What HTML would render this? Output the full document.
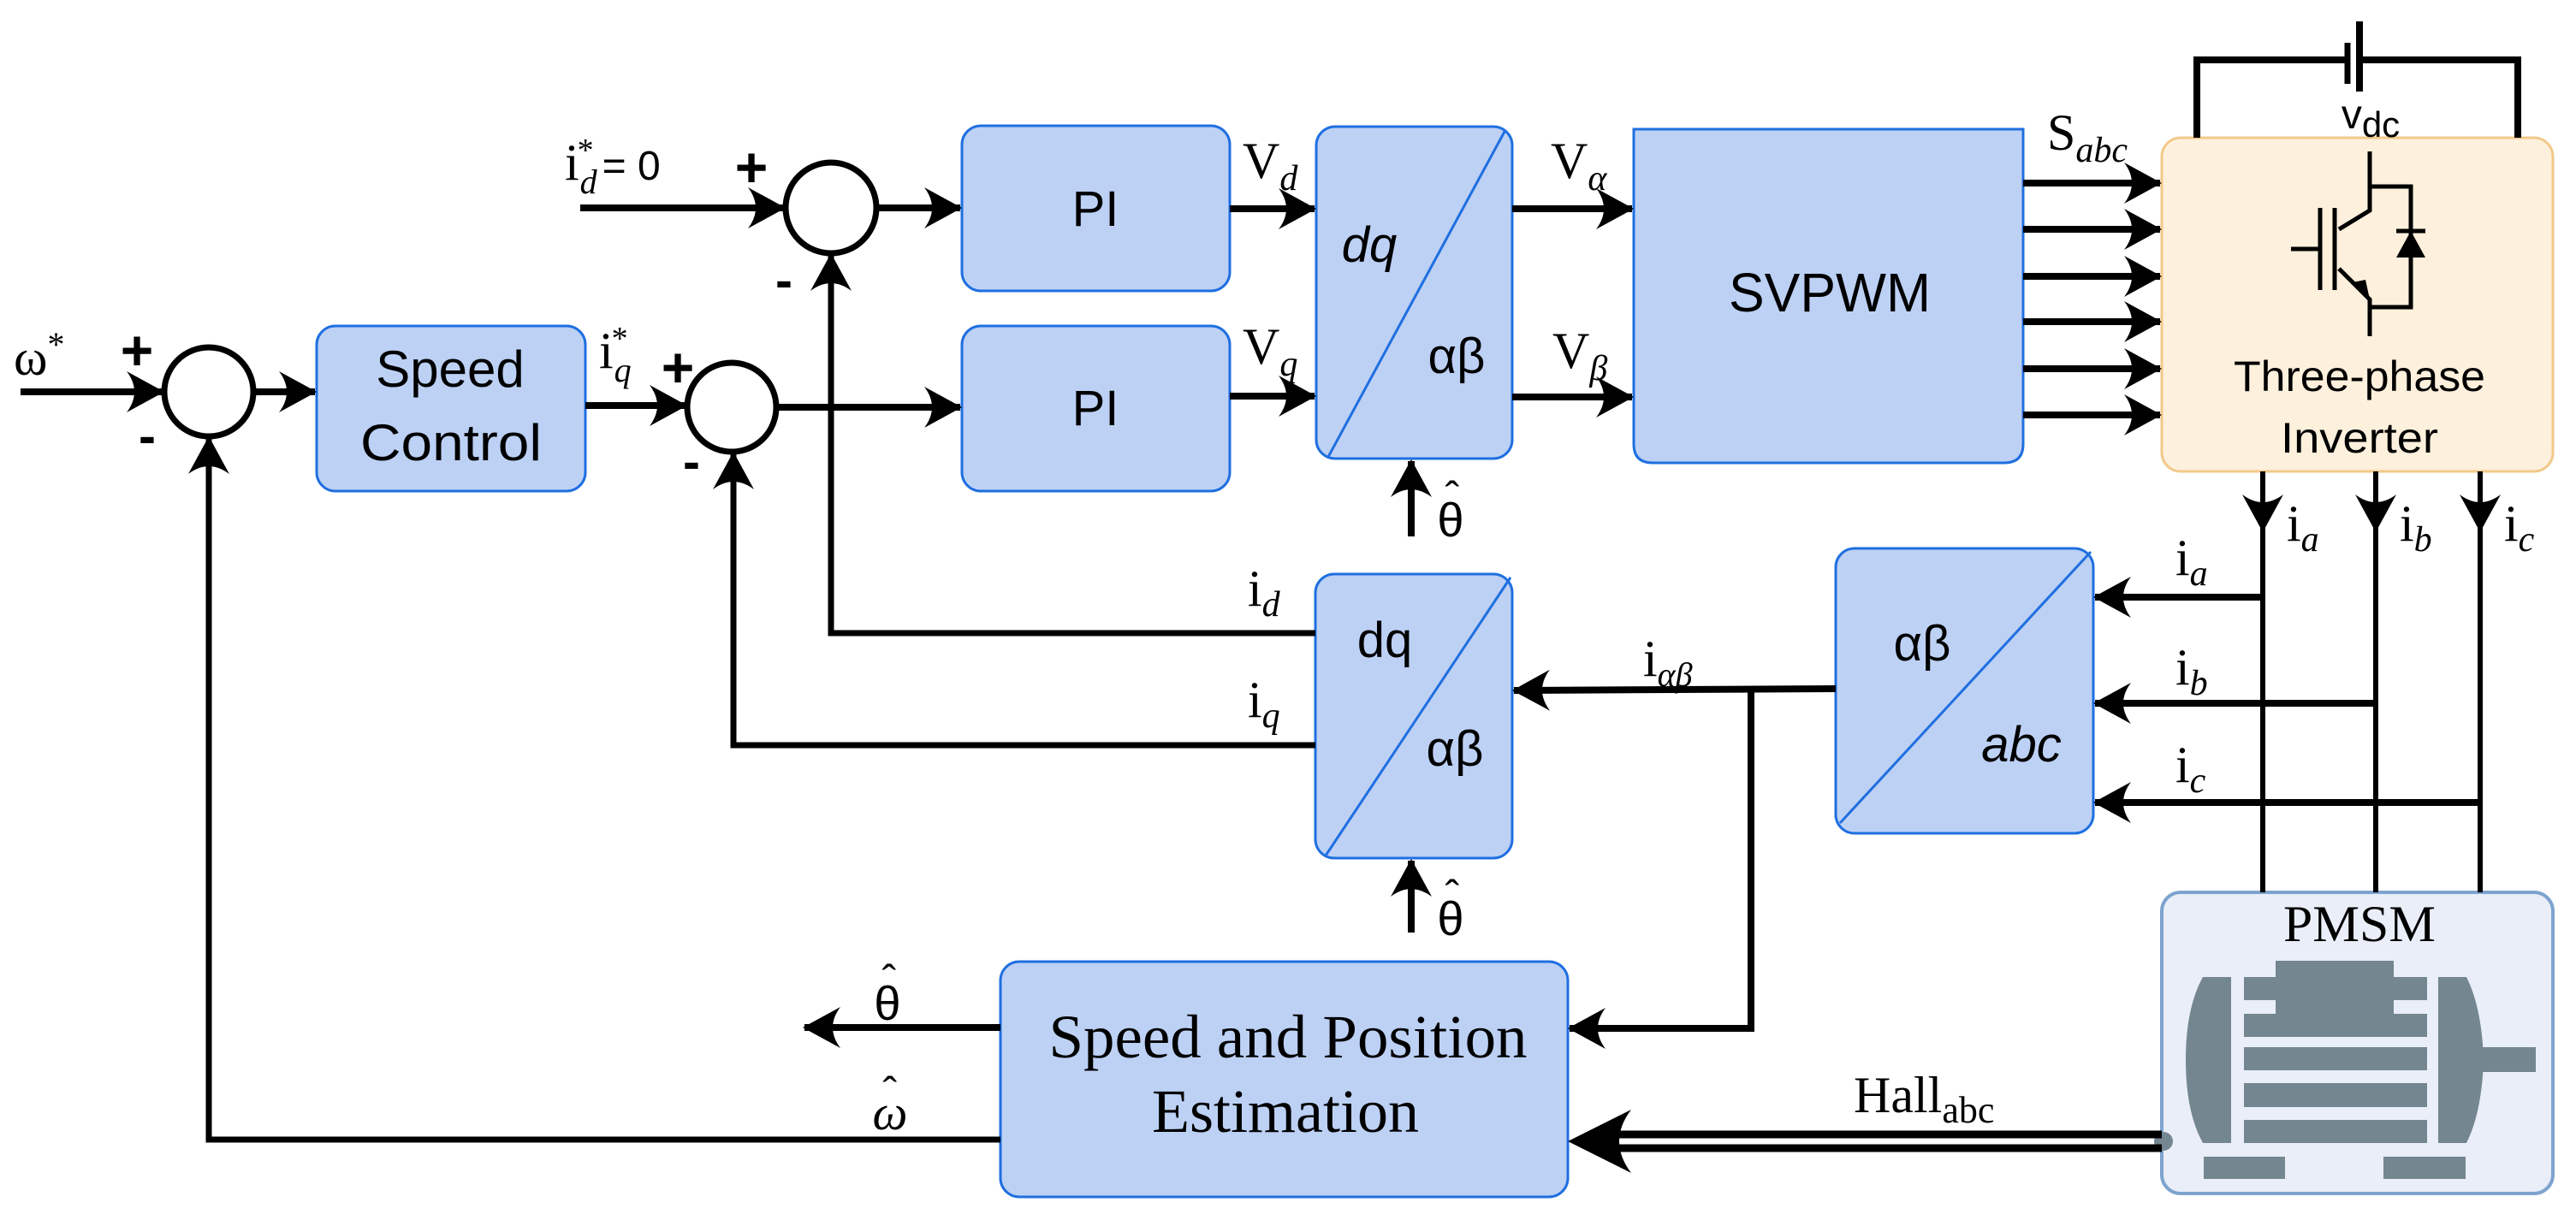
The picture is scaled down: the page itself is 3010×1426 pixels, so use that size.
<!DOCTYPE html>
<html><head><meta charset="utf-8"><style>
html,body{margin:0;padding:0;background:#fff}
svg{display:block}
.s{font-family:"Liberation Sans","DejaVu Sans",sans-serif}
.r{font-family:"Liberation Serif","DejaVu Serif",serif}
</style></head><body>
<svg width="3010" height="1426" viewBox="0 0 3010 1426" xmlns="http://www.w3.org/2000/svg">
<defs>
<marker id="a" markerUnits="userSpaceOnUse" markerWidth="60" markerHeight="60" viewBox="-46 -30 50 60" refX="0" refY="0" orient="auto">
<path d="M2,0 L-42,-24 Q-24,0 -42,24 Z" fill="#000"/></marker>
</defs>
<g fill="#bdd1f5" stroke="#1f6fe0" stroke-width="3">
<rect x="370" y="381" width="314" height="193" rx="22"/>
<rect x="1124" y="147" width="313" height="193" rx="22"/>
<rect x="1124" y="381" width="313" height="193" rx="22"/>
<rect x="1538" y="148" width="229" height="388" rx="22"/>
<path d="M1909,151 L2364,151 L2364,519 Q2364,541 2342,541 L1931,541 Q1909,541 1909,519 Z"/>
<rect x="1537" y="671" width="230" height="332" rx="22"/>
<rect x="2145" y="641" width="301" height="333" rx="22"/>
<rect x="1169" y="1124" width="663" height="275" rx="22"/>
</g>
<g stroke="#1f6fe0" stroke-width="3">
<line x1="1552" y1="534" x2="1759" y2="152"/>
<line x1="1549" y1="1000" x2="1765" y2="675"/>
<line x1="2150" y1="962" x2="2443" y2="645"/>
</g>
<rect x="2526" y="161" width="457" height="390" rx="22" fill="#fdf0dc" stroke="#f2c98a" stroke-width="3"/>
<rect x="2526" y="1043" width="457" height="352" rx="22" fill="#e9eef8" stroke="#7ea3cf" stroke-width="4"/>
<g fill="#74868f">
<rect x="2659" y="1123" width="138" height="66"/>
<rect x="2622" y="1142" width="214" height="27"/>
<rect x="2622" y="1185" width="214" height="27"/>
<rect x="2622" y="1224" width="214" height="27"/>
<rect x="2622" y="1266" width="214" height="28"/>
<rect x="2622" y="1309" width="214" height="27"/>
<path d="M2574,1142 L2607,1142 L2607,1336 L2574,1336 Q2554,1300 2554,1239 Q2554,1178 2574,1142 Z"/>
<path d="M2849,1142 L2882,1142 Q2900,1178 2902,1239 Q2900,1300 2882,1336 L2849,1336 Z"/>
<rect x="2900" y="1224" width="63" height="29"/>
<rect x="2575" y="1352" width="95" height="26"/>
<rect x="2785" y="1352" width="96" height="26"/>
<circle cx="2528" cy="1334" r="11"/>
</g>
<text x="2757" y="1100" text-anchor="middle" class="r" font-size="60" textLength="178" lengthAdjust="spacingAndGlyphs">PMSM</text>
<g fill="none" stroke="#000" stroke-width="7">
<circle cx="244" cy="458" r="52"/>
<circle cx="855" cy="476" r="52"/>
<circle cx="971" cy="243" r="53"/>
</g>
<g stroke="#000" stroke-width="8" fill="none">
<line x1="24" y1="458" x2="190" y2="458" marker-end="url(#a)"/>
<line x1="297" y1="458" x2="368" y2="458" marker-end="url(#a)"/>
<line x1="684" y1="474" x2="801" y2="474" marker-end="url(#a)"/>
<line x1="907" y1="476" x2="1122" y2="476" marker-end="url(#a)"/>
<line x1="678" y1="243" x2="916" y2="243" marker-end="url(#a)"/>
<line x1="1024" y1="243" x2="1122" y2="243" marker-end="url(#a)"/>
<line x1="1437" y1="244" x2="1536" y2="244" marker-end="url(#a)"/>
<line x1="1437" y1="463" x2="1536" y2="463" marker-end="url(#a)"/>
<line x1="1767" y1="244" x2="1907" y2="244" marker-end="url(#a)"/>
<line x1="1767" y1="464" x2="1907" y2="464" marker-end="url(#a)"/>
<line x1="2364" y1="214" x2="2524" y2="214" marker-end="url(#a)"/>
<line x1="2364" y1="268" x2="2524" y2="268" marker-end="url(#a)"/>
<line x1="2364" y1="323" x2="2524" y2="323" marker-end="url(#a)"/>
<line x1="2364" y1="376" x2="2524" y2="376" marker-end="url(#a)"/>
<line x1="2364" y1="431" x2="2524" y2="431" marker-end="url(#a)"/>
<line x1="2364" y1="485" x2="2524" y2="485" marker-end="url(#a)"/>
<line x1="1649" y1="627" x2="1649" y2="539" marker-end="url(#a)"/>
<line x1="1649" y1="1090" x2="1649" y2="1006" marker-end="url(#a)"/>
<line x1="1169" y1="1201" x2="940" y2="1201" marker-end="url(#a)"/>
<line x1="2644" y1="698" x2="2448" y2="698" marker-end="url(#a)"/>
<line x1="2776" y1="822" x2="2448" y2="822" marker-end="url(#a)"/>
<line x1="2898" y1="938" x2="2448" y2="938" marker-end="url(#a)"/>
<line x1="2145" y1="805" x2="1769" y2="807" marker-end="url(#a)"/>
<polyline points="2046,805 2046,1202 1834,1202" marker-end="url(#a)"/>
<polyline points="1537,740 971,740 971,298" stroke-width="7" marker-end="url(#a)"/>
<polyline points="1537,871 857,871 857,530" stroke-width="7" marker-end="url(#a)"/>
<polyline points="1169,1332 244,1332 244,512" stroke-width="7" marker-end="url(#a)"/>
<polyline points="2567,161 2567,70 2743,70"/>
<polyline points="2757,70 2942,70 2942,161"/>
</g>
<g stroke="#000" stroke-width="6" fill="none">
<line x1="2644" y1="551" x2="2644" y2="1043"/>
<line x1="2776" y1="551" x2="2776" y2="1043"/>
<line x1="2898" y1="551" x2="2898" y2="1043"/>
<line x1="2644" y1="551" x2="2644" y2="620" marker-end="url(#a)"/>
<line x1="2776" y1="551" x2="2776" y2="620" marker-end="url(#a)"/>
<line x1="2898" y1="551" x2="2898" y2="620" marker-end="url(#a)"/>
</g>
<g stroke="#000" stroke-width="9">
<line x1="2526" y1="1326" x2="1880" y2="1326"/>
<line x1="2526" y1="1342" x2="1880" y2="1342"/>
</g>
<path d="M1832,1334 L1906,1297 Q1878,1334 1906,1371 Z" fill="#000"/>
<line x1="2757" y1="25" x2="2757" y2="107" stroke="#000" stroke-width="8"/>
<line x1="2743" y1="50" x2="2743" y2="98" stroke="#000" stroke-width="7"/>
<g stroke="#000" stroke-width="5" fill="none">
<polyline points="2769,177 2769,246 2733,268"/>
<polyline points="2733,314 2769,350 2769,393"/>
<line x1="2728" y1="243" x2="2728" y2="339"/>
<line x1="2711" y1="243" x2="2711" y2="339"/>
<line x1="2677" y1="291" x2="2711" y2="291"/>
<polyline points="2769,218 2817,218 2817,359 2769,359"/>
<line x1="2800" y1="270" x2="2834" y2="270"/>
</g>
<path d="M2817,270 L2800,301 L2834,301 Z" fill="#000"/>
<path d="M2769,350 L2749,330 L2764,327 Z" fill="#000"/>
<g class="s" fill="#000" text-anchor="middle">
<text x="526" y="452" font-size="60">Speed</text>
<text x="527" y="538" font-size="60" textLength="212" lengthAdjust="spacingAndGlyphs">Control</text>
<text x="1280" y="264" font-size="58">PI</text>
<text x="1280" y="497" font-size="58">PI</text>
<text x="2138" y="364" font-size="64" textLength="236" lengthAdjust="spacingAndGlyphs">SVPWM</text>
<text x="2757" y="457" font-size="50" textLength="294" lengthAdjust="spacingAndGlyphs">Three-phase</text>
<text x="2757" y="529" font-size="50" textLength="184" lengthAdjust="spacingAndGlyphs">Inverter</text>
<text x="1600" y="306" font-size="58" font-style="italic">dq</text>
<text x="1702" y="436" font-size="58">αβ</text>
<text x="2246" y="772" font-size="58">αβ</text>
<text x="2362" y="890" font-size="58" font-style="italic">abc</text>
<text x="2770" y="150" font-size="48">v<tspan font-size="42" dy="10">dc</tspan></text>
<text x="160" y="432" font-size="66" font-weight="bold">+</text>
<text x="172" y="530" font-size="60" font-weight="bold">-</text>
<text x="792" y="452" font-size="66" font-weight="bold">+</text>
<text x="808" y="560" font-size="60" font-weight="bold">-</text>
<text x="878" y="218" font-size="66" font-weight="bold">+</text>
<text x="916" y="348" font-size="60" font-weight="bold">-</text>
<text x="1695" y="627" font-size="56">θ</text>
<text x="1695" y="1093" font-size="56">θ</text>
<text x="1037" y="1192" font-size="56">θ</text>
</g>
<g class="s" fill="#000" font-size="50" text-anchor="middle">
<text x="1697" y="598">ˆ</text>
<text x="1697" y="1064">ˆ</text>
<text x="1039" y="1163">ˆ</text>
<text x="1040" y="1294">ˆ</text>
</g>
<g class="r" fill="#000" font-size="60">
<text x="16" y="438">ω<tspan font-size="40" dy="-22">*</tspan></text>
<text x="660" y="210">i<tspan font-size="38" dy="-22" dx="-2">*</tspan><tspan font-size="40" font-style="italic" dy="38" dx="-16">d</tspan><tspan font-size="48" font-family="Liberation Sans, sans-serif" dy="-16" dx="6">= 0</tspan></text>
<text x="700" y="430">i<tspan font-size="38" dy="-22" dx="-2">*</tspan><tspan font-size="40" font-style="italic" dy="38" dx="-16">q</tspan></text>
<text x="1452" y="208">V<tspan font-size="42" font-style="italic" dy="14">d</tspan></text>
<text x="1452" y="425">V<tspan font-size="42" font-style="italic" dy="14">q</tspan></text>
<text x="1812" y="208">V<tspan font-size="42" font-style="italic" dy="14">α</tspan></text>
<text x="1814" y="430">V<tspan font-size="42" font-style="italic" dy="14">β</tspan></text>
<text x="2392" y="175">S<tspan font-size="42" font-style="italic" dy="14">abc</tspan></text>
<text x="2672" y="632">i<tspan font-size="42" font-style="italic" dy="12">a</tspan></text>
<text x="2804" y="632">i<tspan font-size="42" font-style="italic" dy="12">b</tspan></text>
<text x="2926" y="632">i<tspan font-size="42" font-style="italic" dy="12">c</tspan></text>
<text x="2542" y="672">i<tspan font-size="42" font-style="italic" dy="12">a</tspan></text>
<text x="2542" y="800">i<tspan font-size="42" font-style="italic" dy="12">b</tspan></text>
<text x="2542" y="914">i<tspan font-size="42" font-style="italic" dy="12">c</tspan></text>
<text x="1920" y="790">i<tspan font-size="40" font-style="italic" dy="12">αβ</tspan></text>
<text x="1458" y="708">i<tspan font-size="42" font-style="italic" dy="12">d</tspan></text>
<text x="1458" y="838">i<tspan font-size="42" font-style="italic" dy="12">q</tspan></text>
<text x="1040" y="1320" font-size="58" font-style="italic" text-anchor="middle">ω</text>
<text x="2166" y="1300" font-size="60">Hall<tspan font-size="44" dy="12">abc</tspan></text>
<text x="1505" y="1236" font-size="72" text-anchor="middle" textLength="559" lengthAdjust="spacingAndGlyphs">Speed and Position</text>
<text x="1502" y="1323" font-size="72" text-anchor="middle">Estimation</text>
</g>
<g class="s" fill="#000" font-size="58" text-anchor="middle">
<text x="1618" y="768">dq</text>
<text x="1700" y="895">αβ</text>
</g>
</svg>
</body></html>
